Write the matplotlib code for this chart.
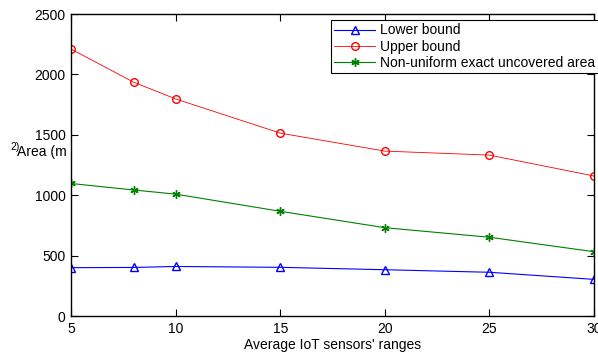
import numpy as np
import matplotlib
matplotlib.use('Agg')
import matplotlib.pyplot as plt

plt.rcParams['font.family'] = ['Liberation Sans', 'DejaVu Sans']
plt.rcParams['font.size'] = 10

ranges = [5, 8, 10, 15, 20, 25, 30]
lower = [400, 402, 410, 403, 383, 362, 303]
upper = [2210, 1935, 1797, 1514, 1365, 1332, 1159]
exact = [1097, 1043, 1009, 867, 731, 652, 532]

fig = plt.figure(figsize=(5.98, 3.56), dpi=100)
ax = fig.add_axes([71/598, 1-316/356, (594-71)/598, (316-14)/356])

ax.plot(ranges, lower, '-', color='blue', lw=0.8, marker='^', ms=6, mfc='none', mec='blue', label='Lower bound')
ax.plot(ranges, upper, '-', color='red', lw=0.6, marker='o', ms=5.5, mfc='none', mec='red', label='Upper bound')
ax.plot(ranges, exact, '-', color='green', lw=0.8, marker=(6, 2, 0), ms=6, mec='green', label='Non-uniform exact uncovered area')

ax.set_xlim(5, 30)
ax.set_ylim(0, 2500)
ax.set_xticks([5, 10, 15, 20, 25, 30])
ax.set_yticks([0, 500, 1000, 1500, 2000, 2500])
ax.tick_params(direction='in', top=True, right=True, length=5, width=0.8, pad=4)
for s in ax.spines.values():
    s.set_linewidth(1.0)
ax.set_xlabel("Average IoT sensors' ranges", labelpad=2)

fig.text(17/598, 1-152/356, 'Area (m', ha='left', va='center')
fig.text(10/598, 1-147/356, '2)', ha='left', va='center', fontsize=7.5)

leg = ax.legend(loc='upper left', bbox_to_anchor=(331/598, 1-20/356), bbox_transform=fig.transFigure,
                fancybox=False, framealpha=1, edgecolor='black', borderaxespad=0,
                handlelength=2.9, handletextpad=0.4, borderpad=0.25, labelspacing=0.15)
leg.get_frame().set_linewidth(0.8)

fig.savefig('out.png', dpi=100)
